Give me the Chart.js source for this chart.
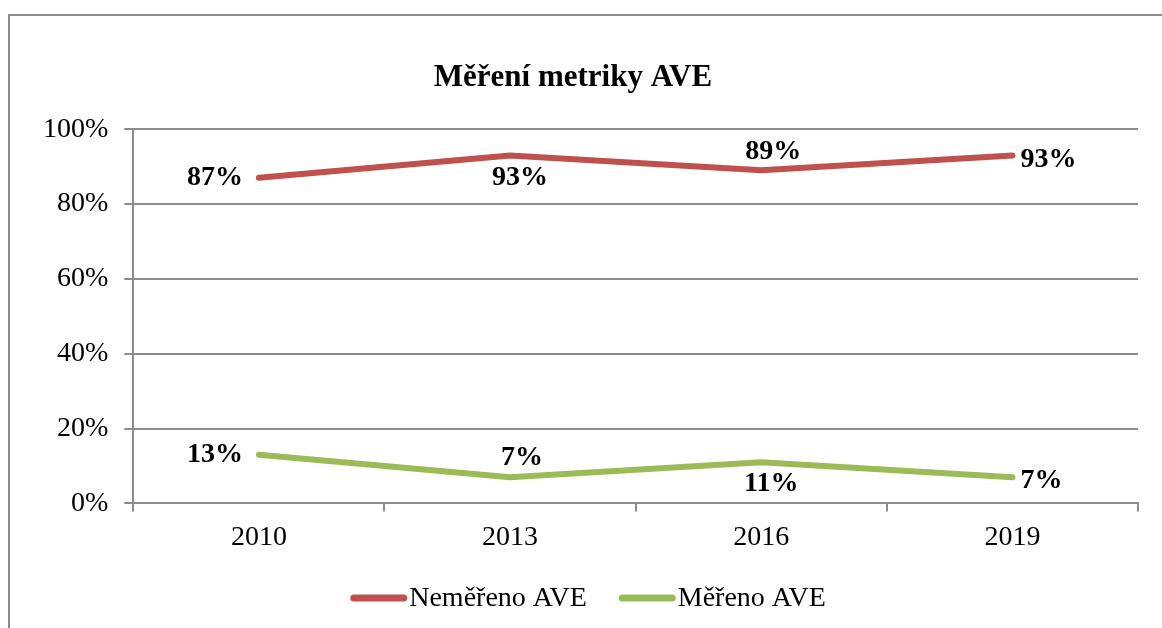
<!DOCTYPE html>
<html>
<head>
<meta charset="utf-8">
<script src="https://cdn.jsdelivr.net/npm/chart.js@4.4.1/dist/chart.umd.min.js"></script>
<style>
    html, body { margin: 0; padding: 0; background: #fff; }
    body { width: 1162px; height: 628px; overflow: hidden; position: relative; }
    .frame {
        position: absolute; left: 8px; top: 14px; right: -4px; bottom: -4px;
        border-left: 2px solid #8c8c8c; border-top: 2px solid #8c8c8c;
    }
    .wrap { position: absolute; left: 8px; top: 14px; width: 1132px; height: 614px; }
</style>
</head>
<body>
<div class="frame"></div>
<div class="wrap"><canvas id="aveChart"></canvas></div>
<script>
const years = ['2010', '2013', '2016', '2019'];
const nemereno = [0.87, 0.93, 0.89, 0.93];
const mereno = [0.13, 0.07, 0.11, 0.07];
const yTicks = [0, 0.2, 0.4, 0.6, 0.8, 1];

const SERIF = '"Liberation Serif", "Times New Roman", serif';

// where each value label sits relative to its point
const labelPlacement = [
    ['left', 'below', 'above', 'right'],
    ['left', 'above', 'below', 'right']
];

const pct = (v) => Math.round(v * 100) + '%';

const valueLabels = {
    id: 'valueLabels',
    afterDatasetsDraw(chart) {
        const ctx = chart.ctx;
        ctx.save();
        ctx.font = 'bold 28px ' + SERIF;
        ctx.fillStyle = '#000';
        ctx.textBaseline = 'middle';
        chart.data.datasets.forEach((ds, i) => {
            const meta = chart.getDatasetMeta(i);
            meta.data.forEach((pt, j) => {
                const txt = pct(ds.data[j]);
                const pos = labelPlacement[i][j];
                let x = pt.x, y = pt.y;
                if (pos === 'left') { ctx.textAlign = 'right'; x -= 16; }
                else if (pos === 'right') { ctx.textAlign = 'left'; x += 8; y += 4; }
                else if (pos === 'above') { ctx.textAlign = 'center'; x += 12; y -= 19; }
                else { ctx.textAlign = 'center'; x += 10; y += 22; }
                ctx.fillText(txt, x, y);
            });
        });
        ctx.restore();
    }
};

// legend drawn by hand so the swatch sits right against its text, like the original
const lineLegend = {
    id: 'lineLegend',
    afterDraw(chart) {
        const ctx = chart.ctx;
        const sw = 57, gapText = 2, gapItem = 32;
        ctx.save();
        ctx.font = '28px ' + SERIF;
        ctx.textBaseline = 'middle';
        ctx.textAlign = 'left';
        const items = chart.data.datasets.map(ds => ({
            text: ds.label, color: ds.borderColor, w: ctx.measureText(ds.label).width
        }));
        const total = items.reduce((s, it) => s + sw + gapText + it.w, 0) + gapItem * (items.length - 1);
        let x = chart.width / 2 + 14 - total / 2;
        const y = chart.height - 30;
        items.forEach(it => {
            ctx.fillStyle = it.color;
            ctx.beginPath();
            ctx.roundRect(x, y - 3.5, sw, 7, 3.5);
            ctx.fill();
            ctx.fillStyle = '#000';
            ctx.fillText(it.text, x + sw + gapText, y + 1);
            x += sw + gapText + it.w + gapItem;
        });
        ctx.restore();
    }
};

new Chart(document.getElementById('aveChart'), {
    type: 'line',
    data: {
        labels: years,
        datasets: [
            {
                label: 'Neměřeno AVE',
                data: nemereno,
                borderColor: '#c0504d',
                backgroundColor: '#c0504d',
                borderWidth: 6,
                borderCapStyle: 'round',
                borderJoinStyle: 'round',
                pointRadius: 0,
                tension: 0
            },
            {
                label: 'Měřeno AVE',
                data: mereno,
                borderColor: '#9bbb59',
                backgroundColor: '#9bbb59',
                borderWidth: 6,
                borderCapStyle: 'round',
                borderJoinStyle: 'round',
                pointRadius: 0,
                tension: 0
            }
        ]
    },
    options: {
        responsive: true,
        maintainAspectRatio: false,
        animation: false,
        layout: { padding: { left: 0, right: 2, top: 0, bottom: 65 } },
        plugins: {
            title: {
                display: true,
                text: 'Měření metriky AVE',
                color: '#000',
                font: { family: SERIF, size: 31, weight: 'bold' },
                padding: { top: 45, bottom: 33 }
            },
            legend: { display: false },
            tooltip: { enabled: false }
        },
        scales: {
            x: {
                offset: true,
                ticks: { color: '#000', font: { family: SERIF, size: 28 }, padding: 9 },
                grid: { offset: true, drawOnChartArea: false, drawTicks: true, tickLength: 8, color: '#8c8c8c', lineWidth: 2 },
                border: { display: true, color: '#8c8c8c', width: 2 }
            },
            y: {
                min: 0,
                max: 1,
                afterBuildTicks(axis) {
                    axis.ticks = yTicks.map(v => ({ value: v }));
                },
                afterFit(axis) {
                    axis.width += 19;
                },
                ticks: { color: '#000', font: { family: SERIF, size: 28 }, padding: 16, callback: (v) => pct(v) },
                grid: { color: '#8c8c8c', lineWidth: 2, tickLength: 9 },
                border: { display: true, color: '#8c8c8c', width: 2 }
            }
        }
    },
    plugins: [valueLabels, lineLegend]
});
</script>
</body>
</html>
